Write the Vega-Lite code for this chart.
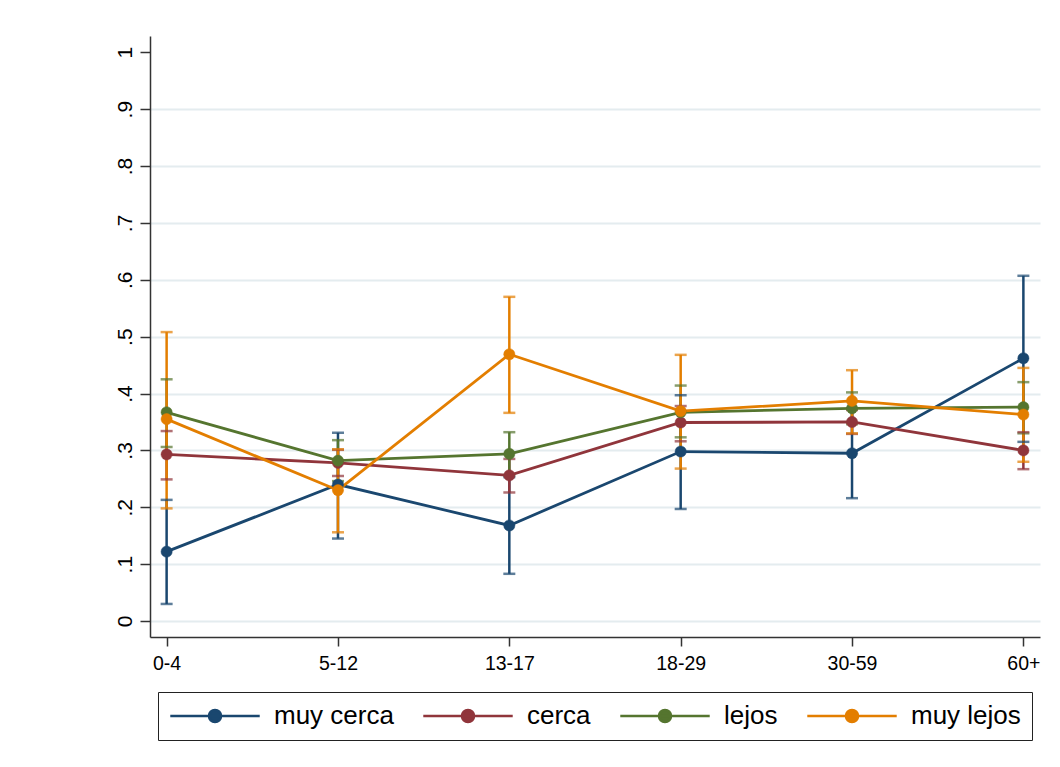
{
  "$schema": "https://vega.github.io/schema/vega-lite/v6.json",
  "width": 890,
  "height": 601,
  "autosize": "none",
  "padding": {"left": 150, "top": 36, "right": 20, "bottom": 130},
  "background": "white",
  "config": {
    "view": {"stroke": null},
    "font": "Liberation Sans",
    "axis": {
      "domainColor": "#333333",
      "domainWidth": 1.5,
      "tickColor": "#333333",
      "tickWidth": 1.5,
      "labelColor": "#000000",
      "labelFont": "Liberation Sans",
      "title": null
    },
    "legend": {
      "labelFont": "Liberation Sans",
      "labelFontSize": 26,
      "labelColor": "#000000"
    }
  },
  "data": {
    "values": [
      {"age": "0-4", "serie": "muy cerca", "p": 0.122, "lo": 0.030, "hi": 0.213},
      {"age": "5-12", "serie": "muy cerca", "p": 0.240, "lo": 0.145, "hi": 0.331},
      {"age": "13-17", "serie": "muy cerca", "p": 0.168, "lo": 0.083, "hi": 0.253},
      {"age": "18-29", "serie": "muy cerca", "p": 0.298, "lo": 0.197, "hi": 0.397},
      {"age": "30-59", "serie": "muy cerca", "p": 0.295, "lo": 0.216, "hi": 0.374},
      {"age": "60+", "serie": "muy cerca", "p": 0.462, "lo": 0.315, "hi": 0.607},
      {"age": "0-4", "serie": "cerca", "p": 0.293, "lo": 0.249, "hi": 0.334},
      {"age": "5-12", "serie": "cerca", "p": 0.278, "lo": 0.255, "hi": 0.301},
      {"age": "13-17", "serie": "cerca", "p": 0.256, "lo": 0.226, "hi": 0.285},
      {"age": "18-29", "serie": "cerca", "p": 0.349, "lo": 0.316, "hi": 0.378},
      {"age": "30-59", "serie": "cerca", "p": 0.350, "lo": 0.329, "hi": 0.371},
      {"age": "60+", "serie": "cerca", "p": 0.300, "lo": 0.267, "hi": 0.332},
      {"age": "0-4", "serie": "lejos", "p": 0.367, "lo": 0.306, "hi": 0.425},
      {"age": "5-12", "serie": "lejos", "p": 0.282, "lo": 0.246, "hi": 0.318},
      {"age": "13-17", "serie": "lejos", "p": 0.294, "lo": 0.256, "hi": 0.332},
      {"age": "18-29", "serie": "lejos", "p": 0.367, "lo": 0.323, "hi": 0.414},
      {"age": "30-59", "serie": "lejos", "p": 0.374, "lo": 0.346, "hi": 0.402},
      {"age": "60+", "serie": "lejos", "p": 0.376, "lo": 0.330, "hi": 0.420},
      {"age": "0-4", "serie": "muy lejos", "p": 0.355, "lo": 0.198, "hi": 0.508},
      {"age": "5-12", "serie": "muy lejos", "p": 0.230, "lo": 0.156, "hi": 0.302},
      {"age": "13-17", "serie": "muy lejos", "p": 0.469, "lo": 0.366, "hi": 0.570},
      {"age": "18-29", "serie": "muy lejos", "p": 0.369, "lo": 0.268, "hi": 0.468},
      {"age": "30-59", "serie": "muy lejos", "p": 0.387, "lo": 0.330, "hi": 0.441},
      {"age": "60+", "serie": "muy lejos", "p": 0.363, "lo": 0.280, "hi": 0.445}
    ]
  },
  "encoding": {
    "x": {
      "field": "age",
      "type": "ordinal",
      "sort": ["0-4", "5-12", "13-17", "18-29", "30-59", "60+"],
      "scale": {"type": "point", "padding": 0.097},
      "axis": {
        "labelAngle": 0,
        "labelFontSize": 19.5,
        "labelPadding": 8,
        "tickSize": 9,
        "grid": false
      }
    }
  },
  "layer": [
    {
      "mark": {"type": "rule", "strokeWidth": 2.5},
      "encoding": {
        "y": {
          "field": "lo",
          "type": "quantitative",
          "scale": {"domain": [-0.0281, 1.0286], "nice": false, "zero": false},
          "axis": {
            "values": [0, 0.1, 0.2, 0.3, 0.4, 0.5, 0.6, 0.7, 0.8, 0.9, 1],
            "labelExpr": "datum.value == 0 ? '0' : datum.value == 1 ? '1' : '.' + round(datum.value * 10)",
            "labelAngle": -90,
            "labelFontSize": 21,
            "labelPadding": 5,
            "tickSize": 10,
            "grid": true,
            "gridColor": {"condition": {"test": "datum.value == 1", "value": "transparent"}, "value": "#e4ecef"},
            "gridWidth": 1.8
          }
        },
        "y2": {"field": "hi"},
        "stroke": {
          "field": "serie",
          "type": "nominal",
          "scale": {"domain": ["muy cerca", "cerca", "lejos", "muy lejos"], "range": ["#1a476f", "#90353b", "#55752f", "#e37e00"]}
        }
      }
    },
    {
      "mark": {"type": "tick", "size": 12, "thickness": 2.5},
      "encoding": {
        "y": {"field": "lo", "type": "quantitative"},
        "fill": {
          "field": "serie",
          "type": "nominal",
          "scale": {"domain": ["muy cerca", "cerca", "lejos", "muy lejos"], "range": ["#1a476f", "#90353b", "#55752f", "#e37e00"]}
        }
      }
    },
    {
      "mark": {"type": "tick", "size": 12, "thickness": 2.5},
      "encoding": {
        "y": {"field": "hi", "type": "quantitative"},
        "fill": {"field": "serie", "type": "nominal"}
      }
    },
    {
      "mark": {"type": "line", "strokeWidth": 2.8},
      "encoding": {
        "y": {"field": "p", "type": "quantitative"},
        "stroke": {"field": "serie", "type": "nominal"},
        "order": {"field": "serie"}
      }
    },
    {
      "mark": {"type": "point", "filled": true, "opacity": 1, "size": 125, "shape": "circle", "strokeWidth": 0.5},
      "encoding": {
        "y": {"field": "p", "type": "quantitative"},
        "fill": {
          "field": "serie",
          "type": "nominal",
          "legend": {
            "orient": "none",
            "legendX": 8,
            "legendY": 656,
            "direction": "horizontal",
            "columns": 4,
            "title": null,
            "strokeColor": "#222222",
            "padding": 11,
            "columnPadding": 28,
            "labelOffset": 13,
            "clipHeight": 26,
            "symbolType": "M-1,0L1,0M-0.135,0A0.135,0.135,0,1,1,0.135,0A0.135,0.135,0,1,1,-0.135,0Z",
            "symbolSize": 8000,
            "symbolStrokeWidth": 2.5,
            "symbolOpacity": 1
          }
        },
        "stroke": {
          "field": "serie",
          "type": "nominal",
          "legend": {
            "orient": "none",
            "legendX": 8,
            "legendY": 656,
            "direction": "horizontal",
            "columns": 4,
            "title": null,
            "strokeColor": "#222222",
            "padding": 11,
            "columnPadding": 28,
            "labelOffset": 13,
            "clipHeight": 26,
            "symbolType": "M-1,0L1,0M-0.135,0A0.135,0.135,0,1,1,0.135,0A0.135,0.135,0,1,1,-0.135,0Z",
            "symbolSize": 8000,
            "symbolStrokeWidth": 2.5,
            "symbolOpacity": 1
          }
        }
      }
    }
  ]
}
